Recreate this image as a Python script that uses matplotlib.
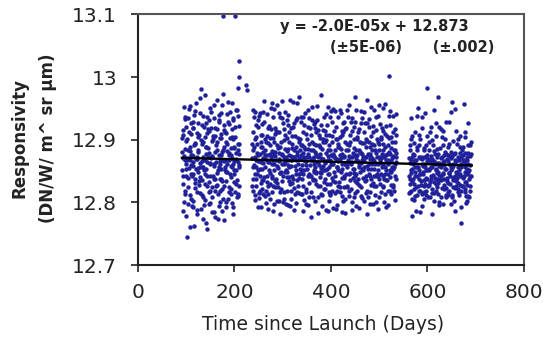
import numpy as np
import matplotlib
matplotlib.use("Agg")
import matplotlib.pyplot as plt

# sample days of the three observing periods
days_a = [92, 93, 94, 95, 97, 98, 99, 100,
          102, 103, 104, 105, 107, 108, 109, 110,
          112, 113, 114, 115, 117, 118, 119, 120,
          122, 123, 124, 125, 127, 128, 129, 130,
          132, 133, 134, 135, 137, 138, 139, 140,
          142, 143, 144, 145, 147, 148, 149, 150,
          152, 153, 154, 155, 157, 158, 159, 160,
          162, 163, 164, 165, 167, 168, 169, 170,
          172, 173, 174, 175, 177, 178, 179, 180,
          182, 183, 184, 185, 187, 188, 189, 190,
          192, 193, 194, 195, 197, 198, 199, 200,
          202, 203, 204, 205, 207, 208, 209, 210]

days_b = [237, 238, 239, 240, 242, 243, 244, 245,
          247, 248, 249, 250, 252, 253, 254, 255,
          257, 258, 259, 260, 262, 263, 264, 265,
          267, 268, 269, 270, 272, 273, 274, 275,
          277, 278, 279, 280, 282, 283, 284, 285,
          287, 288, 289, 290, 292, 293, 294, 295,
          297, 298, 299, 300, 302, 303, 304, 305,
          307, 308, 309, 310, 312, 313, 314, 315,
          317, 318, 319, 320, 322, 323, 324, 325,
          327, 328, 329, 330, 332, 333, 334, 335,
          337, 338, 339, 340, 342, 343, 344, 345,
          347, 348, 349, 350, 352, 353, 354, 355,
          357, 358, 359, 360, 362, 363, 364, 365,
          367, 368, 369, 370, 372, 373, 374, 375,
          377, 378, 379, 380, 382, 383, 384, 385,
          387, 388, 389, 390, 392, 393, 394, 395,
          397, 398, 399, 400, 402, 403, 404, 405,
          407, 408, 409, 410, 412, 413, 414, 415,
          417, 418, 419, 420, 422, 423, 424, 425,
          427, 428, 429, 430, 432, 433, 434, 435,
          437, 438, 439, 440, 442, 443, 444, 445,
          447, 448, 449, 450, 452, 453, 454, 455,
          457, 458, 459, 460, 462, 463, 464, 465,
          467, 468, 469, 470, 472, 473, 474, 475,
          477, 478, 479, 480, 482, 483, 484, 485,
          487, 488, 489, 490, 492, 493, 494, 495,
          497, 498, 499, 500, 502, 503, 504, 505,
          507, 508, 509, 510, 512, 513, 514, 515,
          517, 518, 519, 520, 522, 523, 524, 525,
          527, 528, 529, 530, 532, 533, 534, 535]

days_c = [562, 563, 564, 565, 567, 568, 569, 570,
          572, 573, 574, 575, 577, 578, 579, 580,
          582, 583, 584, 585, 587, 588, 589, 590,
          592, 593, 594, 595, 597, 598, 599, 600,
          602, 603, 604, 605, 607, 608, 609, 610,
          612, 613, 614, 615, 617, 618, 619, 620,
          622, 623, 624, 625, 627, 628, 629, 630,
          632, 633, 634, 635, 637, 638, 639, 640,
          642, 643, 644, 645, 647, 648, 649, 650,
          652, 653, 654, 655, 657, 658, 659, 660,
          662, 663, 664, 665, 667, 668, 669, 670,
          672, 673, 674, 675, 677, 678, 679, 680,
          682, 683, 684, 685, 687, 688, 689, 690]

# responsivity readings in thousandths above 12 (873 -> 12.873), three per sample day
resp_a1 = [880, 842, 915, 801, 867, 936, 853, 778,
           902, 871, 824, 949, 889, 812, 860, 927,
           795, 874, 918, 846, 763, 893, 838, 958,
           869, 817, 905, 881, 834, 942, 856, 789,
           923, 866, 808, 897, 851, 972, 829, 878,
           768, 911, 843, 887, 931, 816, 863, 799,
           945, 872, 825, 906, 858, 784, 919, 838,
           891, 964, 847, 813, 876, 929, 801, 862,
           838, 903, 955, 821, 884, 772, 915, 852,
           897, 835, 868, 941, 806, 879, 925, 846,
           813, 887, 958, 857, 792, 902, 866, 833,
           921, 851, 879, 808, 938, 864, 826, 893]
resp_a2 = [851, 907, 786, 874, 933, 819, 862, 898,
           745, 883, 839, 912, 867, 954, 806, 876,
           842, 929, 858, 793, 891, 823, 946, 869,
           911, 781, 855, 884, 828, 967, 841, 899,
           857, 812, 938, 873, 796, 905, 845, 926,
           888, 757, 864, 917, 832, 879, 951, 818,
           871, 898, 809, 843, 934, 861, 776, 906,
           827, 884, 917, 852, 795, 939, 866, 837,
           909, 854, 787, 881, 973, 826, 866, 913,
           848, 801, 893, 862, 929, 817, 875, 944,
           858, 822, 904, 871, 781, 935, 846, 889,
           817, 869, 948, 836, 894, 811, 877, 859]
resp_a3 = [903, 829, 871, 952, 814, 886, 843, 921,
           867, 798, 934, 855, 882, 761, 909, 846,
           876, 918, 803, 864, 939, 831, 895, 853,
           788, 872, 926, 848, 907, 815, 863, 981,
           836, 894, 857, 773, 921, 868, 804, 889,
           853, 937, 826, 872, 798, 914, 861, 843,
           918, 785, 874, 902, 837, 956, 819, 881,
           865, 828, 896, 774, 931, 856, 903, 819,
           876, 942, 834, 867, 806, 889, 924, 857,
           793, 911, 849, 882, 961, 825, 868, 903,
           841, 876, 917, 799, 862, 931, 852, 887,
           905, 829, 868, 947, 814, 883, 856, 922]

resp_b1 = [871, 912, 838, 889, 804, 945, 857, 826,
           893, 866, 931, 815, 878, 842, 907, 793,
           854, 925, 881, 836, 962, 869, 811, 897,
           843, 876, 918, 789, 864, 903, 829, 951,
           882, 817, 868, 936, 851, 798, 909, 874,
           838, 891, 955, 824, 866, 913, 847, 782,
           896, 861, 834, 927, 872, 806, 885, 944,
           852, 819, 903, 867, 939, 841, 876, 795,
           918, 858, 831, 887, 961, 823, 873, 906,
           846, 799, 881, 934, 862, 815, 897, 853,
           875, 928, 837, 869, 786, 912, 851, 889,
           943, 822, 866, 901, 843, 878, 809, 935,
           859, 884, 817, 952, 871, 836, 894, 862,
           803, 919, 848, 877, 931, 826, 865, 908,
           841, 888, 972, 855, 812, 896, 869, 833,
           914, 851, 788, 879, 924, 845, 867, 802,
           891, 937, 829, 862, 906, 818, 874, 949,
           848, 883, 815, 921, 857, 796, 889, 866,
           832, 905, 869, 943, 811, 878, 853, 927,
           874, 839, 896, 783, 918, 861, 827, 884,
           956, 846, 872, 908, 821, 865, 935, 853,
           809, 887, 843, 929, 868, 794, 901, 876,
           838, 917, 859, 881, 946, 825, 867, 895,
           851, 803, 912, 872, 836, 889, 964, 818,
           877, 933, 845, 869, 798, 906, 854, 883,
           922, 831, 866, 947, 812, 879, 843, 901,
           862, 789, 894, 838, 925, 871, 816, 857,
           884, 951, 827, 873, 909, 846, 792, 868,
           836, 892, 861, 938, 819, 877, 905, 849,
           871, 824, 913, 856, 883, 804, 941, 864]
resp_b2 = [826, 883, 947, 859, 812, 901, 868, 923,
           845, 792, 876, 938, 853, 819, 889, 864,
           907, 836, 871, 814, 928, 857, 883, 799,
           868, 941, 827, 895, 851, 878, 806, 917,
           839, 862, 903, 787, 876, 949, 824, 881,
           914, 858, 831, 887, 803, 869, 936, 847,
           821, 878, 962, 843, 899, 817, 864, 908,
           873, 931, 848, 796, 885, 856, 912, 829,
           805, 867, 894, 842, 921, 873, 788, 858,
           932, 851, 817, 876, 903, 839, 968, 884,
           847, 891, 859, 813, 937, 826, 872, 804,
           866, 798, 909, 854, 886, 947, 831, 873,
           918, 843, 776, 896, 838, 867, 925, 849,
           881, 857, 913, 829, 954, 872, 808, 891,
           826, 903, 847, 871, 794, 916, 858, 937,
           863, 821, 899, 941, 853, 787, 884, 846,
           907, 868, 812, 876, 839, 928, 861, 791,
           874, 946, 833, 901, 869, 818, 937, 852,
           889, 817, 876, 848, 907, 784, 861, 913,
           843, 929, 862, 805, 883, 947, 825, 868,
           811, 874, 897, 836, 862, 914, 788, 879,
           921, 853, 834, 968, 845, 872, 818, 904,
           866, 791, 883, 849, 926, 811, 877, 934,
           839, 895, 857, 926, 873, 842, 898, 781,
           854, 876, 921, 816, 889, 953, 838, 862,
           797, 869, 843, 892, 861, 827, 916, 873,
           938, 851, 883, 809, 867, 901, 845, 919,
           824, 893, 862, 838, 957, 814, 876, 851,
           906, 845, 796, 881, 852, 923, 866, 828,
           857, 938, 874, 819, 897, 842, 872, 908]
resp_b3 = [894, 857, 818, 936, 873, 846, 905, 837,
           879, 921, 852, 807, 943, 866, 831, 897,
           821, 888, 945, 863, 841, 902, 876, 819,
           906, 832, 864, 813, 922, 891, 847, 873,
           958, 843, 881, 827, 896, 862, 834, 918,
           867, 803, 913, 855, 879, 942, 816, 889,
           849, 935, 876, 801, 861, 917, 848, 871,
           798, 882, 841, 924, 859, 897, 834, 963,
           874, 819, 906, 867, 838, 884, 926, 813,
           889, 867, 836, 958, 827, 871, 845, 902,
           813, 937, 892, 851, 879, 846, 923, 868,
           885, 859, 817, 872, 921, 796, 894, 846,
           842, 907, 868, 931, 808, 884, 852, 873,
           929, 836, 891, 847, 865, 916, 783, 859,
           877, 849, 924, 813, 886, 852, 901, 821,
           838, 896, 866, 908, 829, 874, 953, 817,
           856, 814, 883, 946, 861, 897, 835, 878,
           914, 871, 842, 789, 902, 856, 827, 893,
           867, 948, 824, 885, 839, 872, 914, 803,
           825, 873, 917, 861, 846, 893, 856, 936,
           892, 818, 864, 847, 929, 801, 873, 839,
           847, 901, 876, 815, 883, 948, 831, 866,
           912, 856, 828, 896, 863, 879, 807, 854,
           873, 944, 866, 834, 815, 901, 858, 927,
           809, 862, 897, 877, 842, 828, 873, 893,
           865, 913, 827, 854, 883, 936, 801, 846,
           897, 842, 873, 956, 829, 863, 904, 878,
           843, 876, 914, 801, 889, 857, 836, 922,
           878, 819, 867, 903, 946, 841, 887, 813,
           896, 853, 828, 884, 861, 917, 838, 879]

resp_c1 = [842, 891, 817, 868, 934, 853, 806, 877,
           829, 865, 912, 848, 787, 883, 856, 951,
           873, 818, 846, 902, 835, 869, 794, 858,
           887, 826, 861, 943, 839, 812, 876, 851,
           808, 897, 864, 833, 921, 857, 781, 869,
           844, 882, 815, 861, 906, 829, 872, 847,
           968, 836, 858, 801, 887, 843, 917, 823,
           864, 797, 876, 838, 853, 929, 812, 869,
           831, 889, 847, 818, 874, 856, 945, 808,
           859, 824, 898, 841, 786, 867, 835, 914,
           846, 873, 816, 852, 906, 828, 861, 793,
           883, 839, 867, 957, 822, 848, 879, 811,
           854, 803, 926, 862, 837, 874, 819, 897]
resp_c2 = [815, 863, 829, 901, 847, 779, 872, 838,
           895, 822, 857, 811, 868, 938, 843, 826,
           852, 907, 784, 871, 828, 861, 919, 845,
           836, 873, 805, 857, 892, 819, 866, 983,
           869, 828, 851, 912, 838, 874, 815, 856,
           892, 803, 866, 839, 851, 927, 824, 863,
           831, 878, 844, 796, 859, 871, 836, 904,
           847, 914, 822, 866, 881, 808, 853, 839,
           876, 817, 862, 929, 843, 798, 871, 855,
           812, 861, 839, 877, 823, 949, 849, 866,
           894, 831, 857, 812, 879, 843, 768, 872,
           826, 888, 841, 868, 817, 904, 856, 833,
           867, 845, 811, 879, 851, 826, 891, 843]
resp_c3 = [871, 837, 884, 852, 819, 906, 834, 861,
           804, 876, 843, 867, 824, 889, 812, 857,
           838, 891, 819, 846, 872, 813, 936, 848,
           859, 817, 884, 829, 851, 873, 838, 906,
           827, 853, 883, 809, 867, 842, 899, 821,
           863, 947, 832, 878, 819, 854, 838, 886,
           849, 814, 863, 921, 837, 856, 808, 872,
           891, 845, 828, 859, 902, 823, 877, 834,
           812, 866, 893, 847, 829, 881, 852, 961,
           874, 836, 858, 803, 879, 842, 866, 827,
           839, 902, 821, 868, 846, 888, 818, 857,
           861, 827, 876, 843, 913, 832, 864, 799,
           828, 872, 848, 891, 809, 859, 843, 878]

# isolated high readings
days_out = [176, 201, 210, 210, 207, 224, 225, 521]
resp_out = [13.097, 13.097, 13.025, 13.0, 12.983, 12.987, 12.98, 13.002]

# linear fit shown on the chart
fit_slope = -2.0e-05
fit_icpt = 12.873
fit_days = [91, 692]

days = []
resp = []
for d, lists in [(days_a, [resp_a1, resp_a2, resp_a3]),
                 (days_b, [resp_b1, resp_b2, resp_b3]),
                 (days_c, [resp_c1, resp_c2, resp_c3])]:
    for r in lists:
        days += d
        resp += list(12 + np.array(r) / 1000.0)
days += days_out
resp += resp_out

fig = plt.figure(figsize=(5.52, 3.43), dpi=100)
ax = fig.add_axes([0.25, 0.227, 0.699, 0.731])

ax.plot(days, resp, linestyle='none', marker='o', ms=3.2, mew=0,
        color='#20209a', zorder=2)
fx = np.array(fit_days)
ax.plot(fx, fit_slope * fx + fit_icpt, color='black', lw=1.7, zorder=3)

ax.set_xlim(0, 800)
ax.set_ylim(12.7, 13.1)
ax.set_xticks([0, 200, 400, 600, 800])
ax.set_yticks([12.7, 12.8, 12.9, 13.0, 13.1])
ax.set_yticklabels(['12.7', '12.8', '12.9', '13', '13.1'])
ax.tick_params(axis='both', direction='out', length=5, width=1.2,
               labelsize=14.5, colors='#222222')
ax.tick_params(axis='y', pad=10)
ax.tick_params(axis='x', pad=8)
for s in ['left', 'bottom']:
    ax.spines[s].set_linewidth(1.5)
    ax.spines[s].set_color('#222222')
for s in ['top', 'right']:
    ax.spines[s].set_linewidth(1.5)
    ax.spines[s].set_color('#555555')

ax.set_xlabel('Time since Launch (Days)', fontsize=13.5, color='#222222')
ax.xaxis.set_label_coords(0.479, -0.2)

fig.text(20 / 552, 1 - 138 / 343, 'Responsivity', rotation=90, ha='center',
         va='center', fontsize=12, fontweight='bold', color='#222222')
fig.text(48 / 552, 1 - 138 / 343, '(DN/W/ m^ sr \u03bcm)', rotation=90,
         ha='center', va='center', fontsize=12, fontweight='bold', color='#222222')

fig.text(280 / 552, 1 - 26 / 343, 'y = -2.0E-05x + 12.873', ha='left',
         va='center', fontsize=10.5, fontweight='bold', color='#222222')
fig.text(330 / 552, 1 - 47 / 343, '(\u00b15E-06)      (\u00b1.002)', ha='left',
         va='center', fontsize=10.5, fontweight='bold', color='#222222')

fig.savefig('out.png', dpi=100)
